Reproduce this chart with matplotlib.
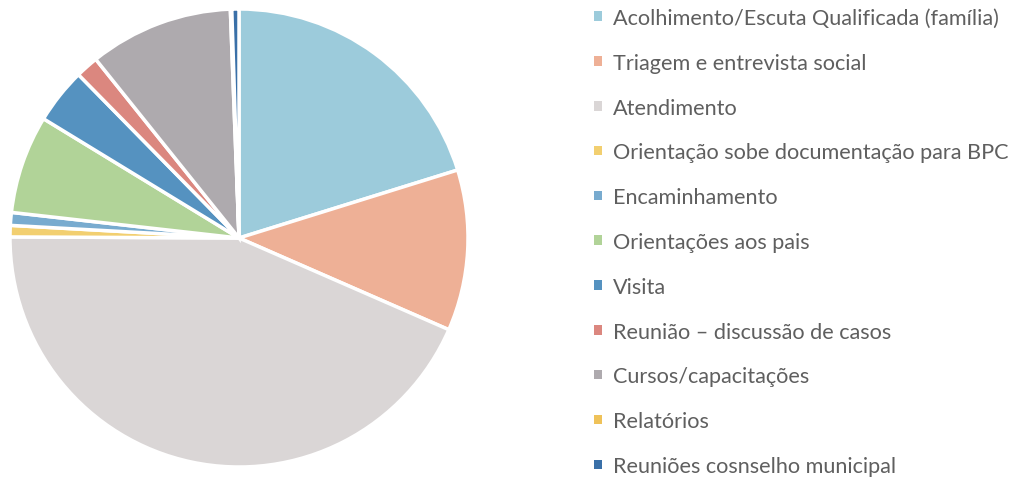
import matplotlib
matplotlib.use("Agg")
import matplotlib.pyplot as plt

# Dados (percentuais aproximados)
categorias = [
    "Acolhimento/Escuta Qualificada (família)",
    "Triagem e entrevista social",
    "Atendimento",
    "Orientação sobe documentação para BPC",
    "Encaminhamento",
    "Orientações aos pais",
    "Visita",
    "Reunião – discussão de casos",
    "Cursos/capacitações",
    "Relatórios",
    "Reuniões cosnselho municipal",
]
valores = [20.1, 11.3, 43.3, 0.8, 0.9, 6.9, 3.9, 1.6, 10.1, 0.1, 0.5]
cores = ["#9ccbdb", "#eeb096", "#dad6d6", "#f2cf70", "#78abcf",
         "#b1d398", "#5592c0", "#db877f", "#aeaaae", "#efc259", "#3a70a8"]

plt.rcParams['font.family'] = ['Lato', 'DejaVu Sans']

fig = plt.figure(figsize=(10.16, 4.85), dpi=100)
ax = fig.add_axes([10 / 1016, 17 / 485, 458 / 1016, 458 / 485])

wedges, _ = ax.pie(valores, colors=cores, startangle=90, counterclock=False,
                   radius=1.0, wedgeprops=dict(edgecolor="white", linewidth=2.5))
ax.set_xlim(-1, 1)
ax.set_ylim(-1, 1)
ax.set_aspect("equal")
ax.axis("off")

leg = fig.legend(wedges, categorias, loc="upper left",
                 bbox_to_anchor=(594 / 1016, 1 - 9 / 485),
                 frameon=False, fontsize=15.6, labelcolor="#5f5f5f",
                 handlelength=0.37, handleheight=0.3, handletextpad=0.5,
                 labelspacing=1.145, borderaxespad=0, borderpad=0)
for h in leg.legend_handles:
    h.set_linewidth(0)

fig.savefig("out.png", dpi=100, facecolor="white")
